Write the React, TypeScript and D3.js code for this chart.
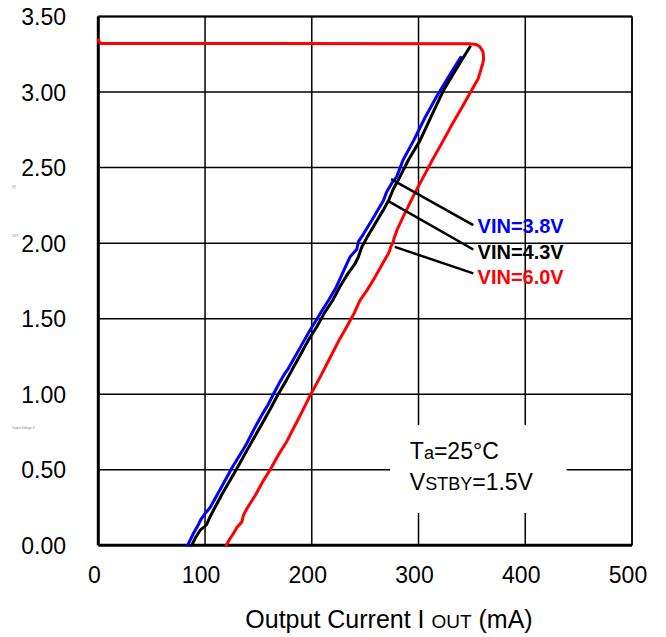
import { useEffect, useRef } from "react";
import * as d3 from "d3";

// Output voltage (V) vs output current (mA)
const xTicks = [0, 100, 200, 300, 400, 500];
const yTicks = [0, 0.5, 1.0, 1.5, 2.0, 2.5, 3.0, 3.5];

const vin38: [number, number][] = [
  [83.6, 0], [89.2, 0.08], [94, 0.14], [96, 0.17], [100, 0.21], [104.8, 0.25],
  [111, 0.33], [118.9, 0.43], [125, 0.51], [131, 0.58], [138, 0.66], [146, 0.77],
  [153, 0.86], [159, 0.93], [164, 1.0], [170, 1.08], [175, 1.14], [178, 1.17],
  [182, 1.22], [190, 1.32], [198, 1.42], [205, 1.5], [211, 1.57], [215.6, 1.62],
  [223, 1.71], [231.3, 1.84], [236, 1.91], [242.2, 1.96], [243.7, 2.01],
  [248.4, 2.06], [257.8, 2.17], [267, 2.28], [270.2, 2.34], [274.8, 2.395],
  [279.6, 2.44], [285.5, 2.55], [295.5, 2.68], [306, 2.83], [317, 2.97],
  [328, 3.1], [339.5, 3.23],
];

const vin43: [number, number][] = [
  [87.5, 0], [91, 0.05], [95.4, 0.1], [99, 0.12], [101.6, 0.14], [104.8, 0.19],
  [110, 0.26], [116, 0.34], [123.5, 0.43], [130, 0.51], [137, 0.6], [145, 0.7],
  [153, 0.8], [161, 0.9], [168.5, 1.0], [176, 1.09], [183, 1.18], [190, 1.27],
  [197, 1.36], [205, 1.45], [212, 1.54], [219.5, 1.62], [227, 1.72], [234, 1.8],
  [240.6, 1.865], [243.7, 1.91], [246.9, 1.975], [252, 2.04], [257.8, 2.11],
  [267.1, 2.22], [271.8, 2.28], [276.5, 2.36], [281.2, 2.42], [290.5, 2.55],
  [301.5, 2.68], [312, 2.84], [323.3, 3.01], [336, 3.16], [343, 3.24],
  [348.3, 3.3],
];

const vin60: [number, number][] = [
  [0, 3.345], [2, 3.322], [347.6, 3.32], [354, 3.315], [357.5, 3.3],
  [360.5, 3.265], [361, 3.22], [360.2, 3.19], [356, 3.09], [348, 2.99],
  [340, 2.89], [331, 2.78], [323.3, 2.68], [313, 2.55], [304, 2.43],
  [295, 2.31], [286, 2.18], [280, 2.09], [277, 2.03], [276.4, 2.01],
  [274, 1.975], [273, 1.95], [271.7, 1.93], [266, 1.86], [258, 1.76],
  [251, 1.68], [245, 1.62], [240, 1.54], [233, 1.45], [225, 1.35], [217, 1.24],
  [209, 1.13], [203, 1.05], [199, 1.0], [192, 0.9], [184, 0.79], [176, 0.68],
  [168, 0.59], [161, 0.5], [154.8, 0.43], [147, 0.33], [139, 0.24], [136, 0.2],
  [134.5, 0.155], [130, 0.12], [126.7, 0.08], [123, 0.04], [120, 0],
];

const seriesLabels = ["VIN=3.8V", "VIN=4.3V", "VIN=6.0V"];
const seriesColors = ["#0000ff", "#000000", "#ff0000"];
// leader line: [fromI, fromV, toI, toV], label anchor [I, V]
const leaders: [number, number, number, number][] = [
  [274.3, 2.424, 351.3, 2.119],
  [271.3, 2.28, 351.3, 1.958],
  [277.8, 1.975, 351.3, 1.8],
];
const labelPos: [number, number][] = [
  [355.3, 2.066],
  [355.3, 1.892],
  [355.3, 1.728],
];

const FONT = "'Liberation Sans', Arial, Helvetica, sans-serif";

export default function App() {
  const svgRef = useRef<SVGSVGElement>(null);
  const width = 666;
  const height = 637;

  useEffect(() => {
    if (!svgRef.current) return;
    const svg = d3.select(svgRef.current);
    svg.selectAll("*").remove();

    const margin = { top: 16.5, left: 98.3, right: 34, bottom: 91.7 };
    const w = width - margin.left - margin.right;
    const h = height - margin.top - margin.bottom;

    svg.attr("width", width).attr("height", height);

    const x = d3.scaleLinear().domain([0, 500]).range([margin.left, margin.left + w]);
    const y = d3.scaleLinear().domain([0, 3.5]).range([margin.top + h, margin.top]);

    function g_line(x1: number, y1: number, x2: number, y2: number, sw: number) {
      svg
        .append("line")
        .attr("x1", x1)
        .attr("y1", y1)
        .attr("x2", x2)
        .attr("y2", y2)
        .attr("stroke", "#000")
        .attr("stroke-width", sw);
    }

    // Grid lines
    xTicks.forEach((t) => g_line(x(t), y(0), x(t), y(3.5), 1.5));
    yTicks.forEach((t) => g_line(x(0), y(t), x(500), y(t), 1.5));

    // Conditions box (white backing hides the grid)
    svg
      .append("rect")
      .attr("x", x(273.4))
      .attr("y", y(0.796))
      .attr("width", x(438.8) - x(273.4))
      .attr("height", y(0.214) - y(0.796))
      .attr("fill", "#fff");

    const t1 = svg
      .append("text")
      .attr("x", x(291.9))
      .attr("y", y(0.571))
      .attr("font-family", FONT)
      .attr("font-size", 23)
      .attr("fill", "#000");
    t1.append("tspan").text("T");
    t1.append("tspan").attr("font-size", 18).text("a");
    t1.append("tspan").text("=25°C");

    const t2 = svg
      .append("text")
      .attr("x", x(291.9))
      .attr("y", y(0.366))
      .attr("font-family", FONT)
      .attr("font-size", 23)
      .attr("fill", "#000");
    t2.append("tspan").text("V");
    t2.append("tspan").attr("font-size", 18).text("STBY");
    t2.append("tspan").text("=1.5V");

    // Axis frame
    g_line(x(0), y(0), x(0), y(3.5), 3);
    g_line(x(0), y(0), x(500), y(0), 3);
    g_line(x(0), y(3.5), x(500), y(3.5), 2);
    g_line(x(500), y(0), x(500), y(3.5), 1.5);

    // Curves
    const line = d3
      .line<[number, number]>()
      .x((d) => x(d[0]))
      .y((d) => y(d[1]));

    [vin60, vin38, vin43].forEach((data) => {
      const idx = data === vin38 ? 0 : data === vin43 ? 1 : 2;
      svg
        .append("path")
        .datum(data)
        .attr("fill", "none")
        .attr("stroke", seriesColors[idx])
        .attr("stroke-width", 3)
        .attr("stroke-linejoin", "round")
        .attr("stroke-linecap", "round")
        .attr("d", line);
    });

    // Leader lines + labels
    leaders.forEach((l, i) => {
      svg
        .append("line")
        .attr("x1", x(l[0]))
        .attr("y1", y(l[1]))
        .attr("x2", x(l[2]))
        .attr("y2", y(l[3]))
        .attr("stroke", "#000")
        .attr("stroke-width", 2.5);
      svg
        .append("text")
        .attr("x", x(labelPos[i][0]))
        .attr("y", y(labelPos[i][1]))
        .attr("font-family", FONT)
        .attr("font-size", 20)
        .attr("font-weight", "bold")
        .attr("fill", seriesColors[i])
        .text(seriesLabels[i]);
    });

    // Tick labels
    yTicks.forEach((t) => {
      svg
        .append("text")
        .attr("x", 66)
        .attr("y", y(t) + 8.5)
        .attr("text-anchor", "end")
        .attr("font-family", FONT)
        .attr("font-size", 23)
        .attr("fill", "#000")
        .text(t.toFixed(2));
    });
    xTicks.forEach((t) => {
      svg
        .append("text")
        .attr("x", x(t) - 4)
        .attr("y", 583)
        .attr("text-anchor", "middle")
        .attr("font-family", FONT)
        .attr("font-size", 23)
        .attr("fill", "#000")
        .text(String(t));
    });

    // X axis title
    const xt = svg
      .append("text")
      .attr("x", 389)
      .attr("y", 628)
      .attr("text-anchor", "middle")
      .attr("font-family", FONT)
      .attr("font-size", 25)
      .attr("fill", "#000");
    xt.append("tspan").text("Output Current I ");
    xt.append("tspan").attr("font-size", 19).text(" OUT");
    xt.append("tspan").text(" (mA)");

    // Tiny leftover y-title fragments seen at the left edge
    [
      { ty: 188, s: "(V)" },
      { ty: 237, s: "OUT" },
      { ty: 429, s: "Output Voltage V" },
    ].forEach((f) => {
      svg
        .append("text")
        .attr("x", 12)
        .attr("y", f.ty)
        .attr("font-family", FONT)
        .attr("font-size", 3)
        .attr("fill", "#777")
        .text(f.s);
    });
  }, []);

  return (
    <svg
      ref={svgRef}
      style={{ position: "absolute", left: 0, top: 0, background: "#fff" }}
    />
  );
}
